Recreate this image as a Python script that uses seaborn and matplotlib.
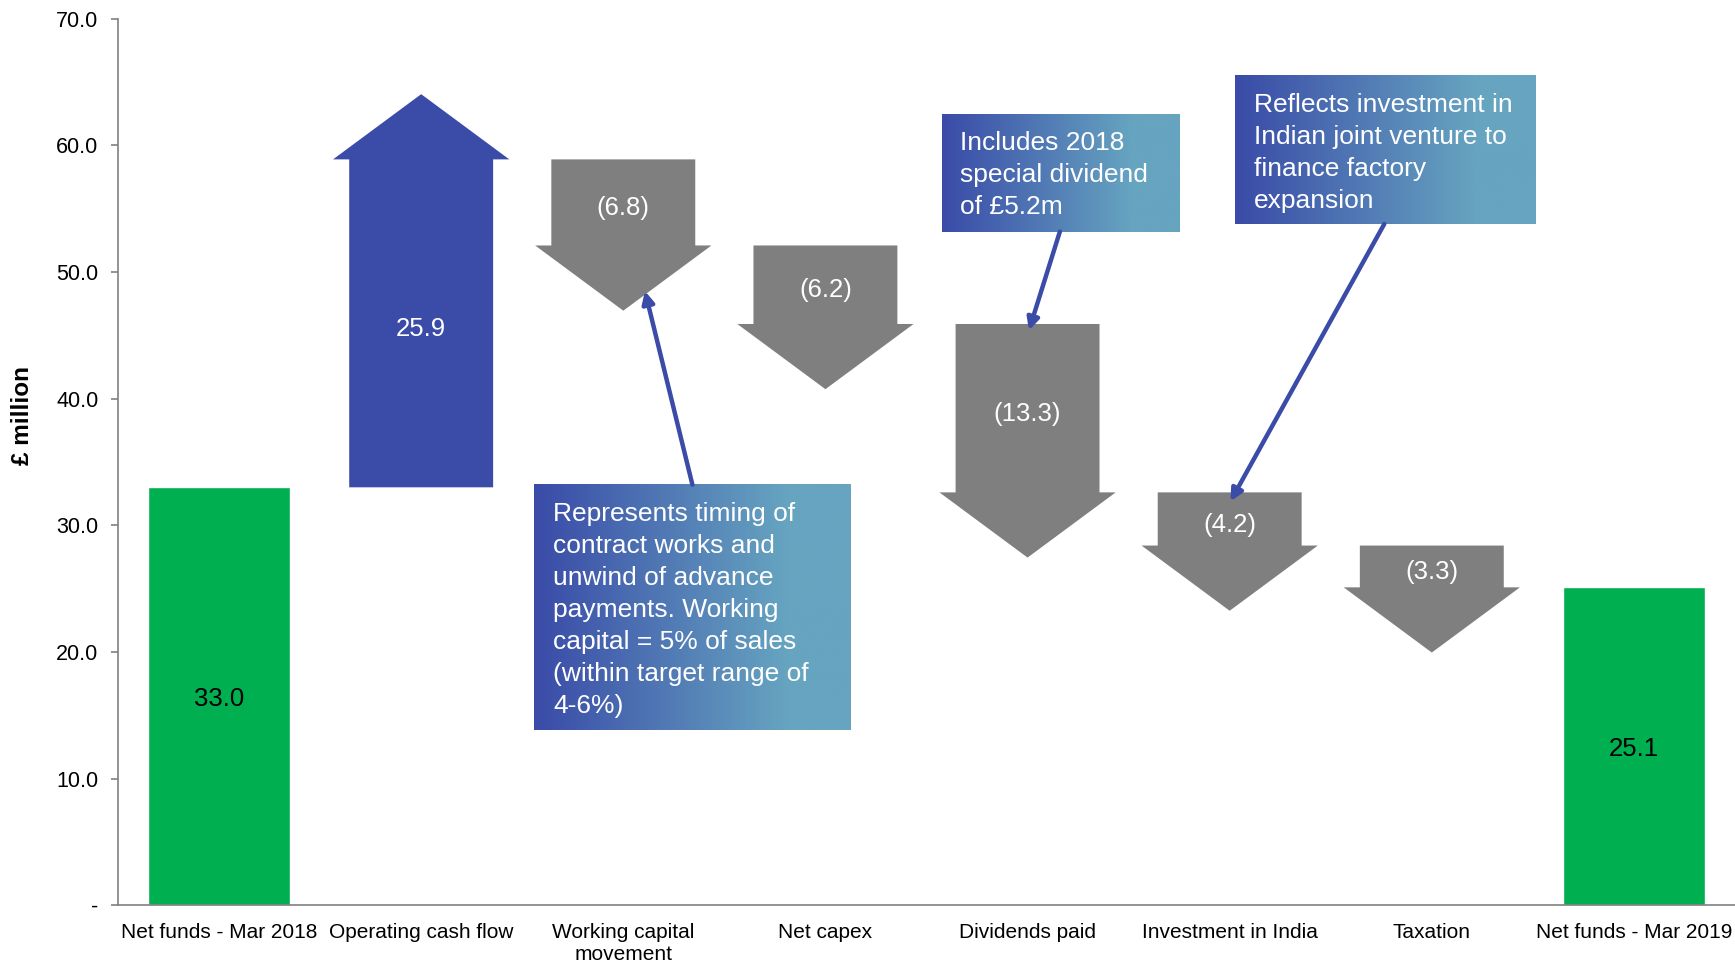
import numpy as np
import pandas as pd
import matplotlib
matplotlib.use("Agg")
import matplotlib.pyplot as plt
from matplotlib.patches import Polygon
from matplotlib.colors import to_rgb
import seaborn as sns

# ---------------- data ----------------
categories = ["Net funds - Mar 2018", "Operating cash flow", "Working capital\nmovement",
              "Net capex", "Dividends paid", "Investment in India", "Taxation",
              "Net funds - Mar 2019"]
values = [33.0, 25.9, -6.8, -6.2, -13.3, -4.2, -3.3, 25.1]
is_total = [True, False, False, False, False, False, False, True]
y_ticks = [0, 10, 20, 30, 40, 50, 60, 70]
y_tick_labels = ["-", "10.0", "20.0", "30.0", "40.0", "50.0", "60.0", "70.0"]

notes = [
    "Represents timing of\ncontract works and\nunwind of advance\npayments. Working\ncapital = 5% of sales\n(within target range of\n4-6%)",
    "Includes 2018\nspecial dividend\nof £5.2m",
    "Reflects investment in\nIndian joint venture to\nfinance factory\nexpansion",
]
# box extents (x0, x1, y0, y1) in data units, leader arrow tail/head
note_boxes = [(1.559, 3.125, 13.8, 33.2), (3.575, 4.752, 53.2, 62.5), (5.026, 6.515, 53.8, 65.5)]
note_tails = [(2.342, 33.2), (4.160, 53.2), (5.765, 53.8)]
note_heads = [(2.107, 48.5), (4.007, 45.4), (5.004, 31.9)]

GREEN = "#00B050"
BLUE = "#3A4BA8"
GREY = "#7F7F7F"
LIGHT = "#66A4C0"

sns.set_style("white")
plt.rcParams["font.family"] = ["Liberation Sans", "DejaVu Sans"]

fig = plt.figure(figsize=(17.35, 9.66), dpi=100)
ax = fig.add_axes([0.068, 0.063, 0.932, 0.9175])

# totals via seaborn
tot_df = pd.DataFrame({"cat": [c for c, t in zip(categories, is_total) if t],
                       "val": [v for v, t in zip(values, is_total) if t]})
sns.barplot(data=tot_df, x="cat", y="val", order=categories, color=GREEN,
            saturation=1, width=0.70, errorbar=None, ax=ax, zorder=2)

# running waterfall
shaft_hw, head_hw, head_len = 0.356, 0.436, 5.15
running = 0.0
for i, (v, t) in enumerate(zip(values, is_total)):
    if t:
        running = v
        ax.text(i, v / 2 - 0.2, f"{v:.1f}", ha="center", va="center",
                fontsize=18.5, color="black", zorder=5)
        continue
    s, e = running, running + v
    d = 1 if v > 0 else -1
    pts = [(i - shaft_hw, s), (i - shaft_hw, e), (i - head_hw, e), (i, e + d * head_len),
           (i + head_hw, e), (i + shaft_hw, e), (i + shaft_hw, s)]
    ax.add_patch(Polygon(pts, closed=True, facecolor=BLUE if v > 0 else GREY,
                         edgecolor="none", zorder=2))
    lab = f"{v:.1f}" if v > 0 else f"({abs(v):.1f})"
    ax.text(i, (s + e) / 2 - 0.45, lab, ha="center", va="center",
            fontsize=18.5, color="white", zorder=5)
    running = e

# annotation boxes with gradient
c0, c1 = np.array(to_rgb(BLUE)), np.array(to_rgb(LIGHT))
tt = np.linspace(0, 1, 256)
f = np.clip(tt / 0.8, 0, 1)
grad = (c0[None, :] * (1 - f[:, None]) + c1[None, :] * f[:, None])[None, :, :]
for (x0, x1, y0, y1), txt, tail, head in zip(note_boxes, notes, note_tails, note_heads):
    ax.imshow(grad, extent=(x0, x1, y0, y1), aspect="auto", zorder=3,
              interpolation="bilinear")
    ax.text(x0 + 0.093, y1 - 1.35, txt, ha="left", va="top", fontsize=19,
            color="white", linespacing=1.42, zorder=6)
    ax.annotate("", xy=head, xytext=tail,
                arrowprops=dict(arrowstyle="-|>,head_length=0.7,head_width=0.35",
                                color=BLUE, lw=3.2, shrinkA=0, shrinkB=0),
                zorder=4)

# axes styling
ax.set_xlim(-0.5, 7.5)
ax.set_ylim(0, 70)
ax.set_yticks(y_ticks)
ax.set_yticklabels(y_tick_labels, fontsize=15.5, color="black")
ax.set_xticks(range(len(categories)))
ax.set_xticklabels(categories, fontsize=15, color="black")
ax.set_xticks(np.arange(-0.5, len(categories), 1.0), minor=True)
ax.tick_params(axis="x", which="major", length=0, pad=13)
ax.tick_params(axis="x", which="minor", length=5, width=1.2, color="#808080", direction="out")
ax.tick_params(axis="y", which="major", length=5, width=1.2, color="#808080",
               direction="out", left=True, pad=9)
for side in ["top", "right"]:
    ax.spines[side].set_visible(False)
for side in ["left", "bottom"]:
    ax.spines[side].set_color("#808080")
    ax.spines[side].set_linewidth(1.2)
ax.set_xlabel("")
ax.set_ylabel("£ million", fontsize=17.5, fontweight="bold", color="black")
ax.yaxis.set_label_coords(-0.052, 0.553)
ax.grid(False)

fig.savefig("out.png", dpi=100)
